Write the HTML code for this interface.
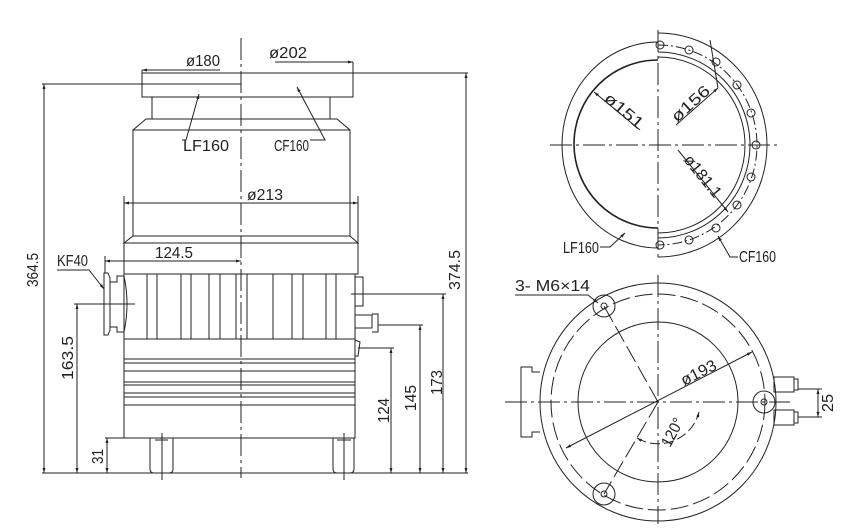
<!DOCTYPE html>
<html><head><meta charset="utf-8"><style>
html,body{margin:0;padding:0;background:#fff;}
svg{display:block}
text{font-family:"Liberation Sans",sans-serif;font-size:16px;fill:#222}
</style></head><body>
<svg width="857" height="528" viewBox="0 0 857 528" xmlns="http://www.w3.org/2000/svg">
<defs>
<marker id="a" viewBox="0 0 10 10" refX="10" refY="5" markerWidth="7" markerHeight="5" orient="auto-start-reverse"><path d="M0,2 L10,5 L0,8z" fill="#222"/></marker>
</defs>
<g stroke="#222" stroke-width="1" fill="none">
<line x1="241" y1="38" x2="241" y2="478" stroke-dasharray="22,4,3,4"/>
<rect x="142" y="73" width="211" height="24"/>
<rect x="152" y="97" width="178" height="22"/>
<path d="M146,119 L133,130 V236 L124,243 H358 L350,236 V130 L337,119 Z"/>
<line x1="133" y1="130" x2="350" y2="130"/>
<line x1="133" y1="236" x2="350" y2="236"/>
<rect x="124" y="243" width="234" height="31"/>
<rect x="124" y="274" width="231" height="65"/>
<g>
<line x1="147" y1="274" x2="147" y2="339"/><line x1="157" y1="274" x2="157" y2="339"/>
<line x1="181" y1="274" x2="181" y2="339"/><line x1="191" y1="274" x2="191" y2="339"/>
<line x1="209" y1="274" x2="209" y2="339"/><line x1="220" y1="274" x2="220" y2="339"/>
<line x1="236" y1="274" x2="236" y2="339"/><line x1="247" y1="274" x2="247" y2="339"/>
<line x1="273" y1="274" x2="273" y2="339"/><line x1="292" y1="274" x2="292" y2="339"/>
<line x1="303" y1="274" x2="303" y2="339"/><line x1="326" y1="274" x2="326" y2="339"/>
<line x1="336" y1="274" x2="336" y2="339"/>
</g>
<rect x="124" y="339" width="231" height="99"/>
<line x1="124" y1="359" x2="355" y2="359"/><line x1="124" y1="363" x2="355" y2="363"/>
<line x1="124" y1="371" x2="355" y2="371"/><line x1="124" y1="382" x2="355" y2="382"/>
<line x1="124" y1="385" x2="355" y2="385"/><line x1="124" y1="393" x2="355" y2="393"/>
<line x1="124" y1="397" x2="355" y2="397"/><line x1="124" y1="405" x2="355" y2="405"/>
<path d="M150,438 V469 Q150,473 154,473 H169 Q173,473 173,469 V438"/>
<line x1="162" y1="433" x2="162" y2="480"/><line x1="155" y1="440" x2="168" y2="440"/>
<path d="M333,438 V469 Q333,473 337,473 H350 Q354,473 354,469 V438"/>
<line x1="344" y1="433" x2="344" y2="480"/><line x1="337" y1="440" x2="351" y2="440"/>
<path d="M104,273 H108 L110,278 V330 L108,335 H104 Z"/>
<path d="M110,282 H117 V276 H124 Q130,304 124,332 H117 V327 H110"/>
<line x1="88" y1="304" x2="135" y2="304"/>
<rect x="355" y="277" width="8" height="29"/>
<path d="M355,315 H372 V328 H355"/><path d="M372,314 H378 V332 H372"/>
<path d="M355,340 L360,342 L358,356 L355,356"/>
<line x1="42" y1="473" x2="468" y2="473"/>
<line x1="42" y1="84" x2="241" y2="84"/>
<line x1="241" y1="73" x2="468" y2="73"/>
<line x1="44" y1="84" x2="44" y2="473" marker-start="url(#a)" marker-end="url(#a)"/>
<line x1="466" y1="73" x2="466" y2="473" marker-start="url(#a)" marker-end="url(#a)"/>
<line x1="74" y1="304" x2="104" y2="304"/>
<line x1="77" y1="304" x2="77" y2="473" marker-start="url(#a)" marker-end="url(#a)"/>
<line x1="105" y1="438" x2="124" y2="438"/>
<line x1="107" y1="438" x2="107" y2="473" marker-start="url(#a)" marker-end="url(#a)"/>
<line x1="351" y1="294" x2="446" y2="294"/>
<line x1="443" y1="294" x2="443" y2="473" marker-start="url(#a)" marker-end="url(#a)"/>
<line x1="378" y1="325" x2="423" y2="325"/>
<line x1="420" y1="325" x2="420" y2="473" marker-start="url(#a)" marker-end="url(#a)"/>
<line x1="358" y1="348" x2="394" y2="348"/>
<line x1="391" y1="348" x2="391" y2="473" marker-start="url(#a)" marker-end="url(#a)"/>
<line x1="124" y1="203" x2="358" y2="203" marker-start="url(#a)" marker-end="url(#a)"/>
<line x1="124" y1="196" x2="124" y2="243"/><line x1="358" y1="196" x2="358" y2="243"/>
<line x1="105" y1="261" x2="241" y2="261" marker-start="url(#a)" marker-end="url(#a)"/>
<line x1="105" y1="256" x2="105" y2="273"/>
<line x1="220" y1="70" x2="142" y2="70" marker-end="url(#a)"/>
<line x1="142" y1="70" x2="142" y2="73"/>
<line x1="275" y1="62" x2="353" y2="62" marker-end="url(#a)"/>
<line x1="353" y1="62" x2="353" y2="73"/>
<path d="M199,94 L186,140 H182" marker-start="url(#a)"/>
<path d="M297,87 L325,140 H310" marker-start="url(#a)"/>
<path d="M57,270 H89 L104,289" marker-end="url(#a)"/>

<line x1="658" y1="30" x2="658" y2="258" stroke-dasharray="22,4,3,4"/>
<line x1="550" y1="145" x2="778" y2="145" stroke-dasharray="22,4,3,4"/>
<path d="M658,42 A96,103 0 0 0 658,248"/>
<path d="M658,60 A84,84 0 0 0 658,228" stroke-width="1.6"/>
<path d="M658,33 A109,112 0 0 1 658,257"/>
<path d="M658,57 A87,88 0 0 1 658,233"/>
<path d="M658,52 A92,93 0 0 1 658,238"/>
<path d="M658,45 A99,100 0 0 1 658,245" stroke-dasharray="10,3,2,3"/>
<g>
<circle cx="689" cy="50" r="4"/><circle cx="716" cy="62" r="4"/><circle cx="737" cy="85" r="4"/>
<circle cx="751" cy="113" r="4"/><circle cx="756" cy="145" r="4"/><circle cx="751" cy="177" r="4"/>
<circle cx="737" cy="205" r="4"/><circle cx="716" cy="228" r="4"/><circle cx="689" cy="240" r="4"/>
<circle cx="660" cy="45" r="4"/><circle cx="660" cy="245" r="4"/>
</g>
<line x1="594" y1="92" x2="640" y2="130" marker-start="url(#a)"/>
<line x1="676" y1="125" x2="718" y2="88" marker-end="url(#a)"/>
<line x1="718" y1="88" x2="710" y2="40"/>
<line x1="678" y1="150" x2="728" y2="212" marker-end="url(#a)"/>
<path d="M600,247 H610 L625,233" marker-end="url(#a)"/>
<path d="M738,257 H730 L718,236" marker-end="url(#a)"/>

<line x1="658" y1="275" x2="658" y2="524" stroke-dasharray="22,4,3,4"/>
<line x1="505" y1="402" x2="790" y2="402" stroke-dasharray="22,4,3,4"/>
<ellipse cx="658" cy="402" rx="118" ry="119"/>
<ellipse cx="658" cy="402" rx="107" ry="108" stroke-dasharray="18,5"/>
<ellipse cx="658" cy="402" rx="80" ry="80"/>
<circle cx="604" cy="306" r="11"/><circle cx="604" cy="306" r="3"/>
<circle cx="604" cy="494" r="11"/><circle cx="604" cy="494" r="3"/>
<circle cx="764" cy="402" r="11"/><circle cx="764" cy="402" r="3"/>
<line x1="658" y1="402" x2="604" y2="306" stroke-dasharray="18,5"/>
<line x1="658" y1="402" x2="604" y2="494" stroke-dasharray="18,5"/>
<line x1="566" y1="448" x2="752" y2="352" marker-start="url(#a)" marker-end="url(#a)"/>
<path d="M637,438 A42,42 0 0 0 699,412" stroke-dasharray="10,4" marker-start="url(#a)" marker-end="url(#a)"/>
<path d="M540,372 H532 V367 H521 V437 H532 V432 H540"/>
<rect x="774" y="377" width="20" height="15"/><rect x="794" y="379" width="4" height="11"/>
<rect x="774" y="410" width="20" height="15"/><rect x="794" y="412" width="4" height="11"/>
<line x1="798" y1="389" x2="822" y2="389"/><line x1="798" y1="417" x2="822" y2="417"/>
<line x1="818" y1="389" x2="818" y2="417" marker-start="url(#a)" marker-end="url(#a)"/>
<path d="M515,295 H588 L598,303" marker-end="url(#a)"/>
</g>

<g>
<text x="186" y="66" textLength="34" lengthAdjust="spacingAndGlyphs">ø180</text>
<text x="269" y="58" textLength="38" lengthAdjust="spacingAndGlyphs">ø202</text>
<text x="183" y="151" textLength="46" lengthAdjust="spacingAndGlyphs">LF160</text>
<text x="274" y="151" textLength="35" lengthAdjust="spacingAndGlyphs">CF160</text>
<text x="247" y="200" textLength="36" lengthAdjust="spacingAndGlyphs">ø213</text>
<text x="155" y="258" textLength="38" lengthAdjust="spacingAndGlyphs">124.5</text>
<text x="57" y="266" textLength="31" lengthAdjust="spacingAndGlyphs" font-size="14">KF40</text>
<text transform="translate(38,287) rotate(-90)" textLength="34" lengthAdjust="spacingAndGlyphs">364.5</text>
<text transform="translate(460,290) rotate(-90)" textLength="40" lengthAdjust="spacingAndGlyphs">374.5</text>
<text transform="translate(73,380) rotate(-90)" textLength="44" lengthAdjust="spacingAndGlyphs">163.5</text>
<text transform="translate(103,464) rotate(-90)" textLength="15" lengthAdjust="spacingAndGlyphs">31</text>
<text transform="translate(389,423) rotate(-90)" textLength="25" lengthAdjust="spacingAndGlyphs">124</text>
<text transform="translate(416,411) rotate(-90)" textLength="26" lengthAdjust="spacingAndGlyphs">145</text>
<text transform="translate(442,395) rotate(-90)" textLength="25" lengthAdjust="spacingAndGlyphs">173</text>
<text transform="translate(603,100) rotate(40)" textLength="46" lengthAdjust="spacingAndGlyphs">ø151</text>
<text transform="translate(677,123) rotate(-42)" textLength="46" lengthAdjust="spacingAndGlyphs">ø156</text>
<text transform="translate(683,160) rotate(51)" textLength="50" lengthAdjust="spacingAndGlyphs">ø181.1</text>
<text x="563" y="253" textLength="36" lengthAdjust="spacingAndGlyphs">LF160</text>
<text x="739" y="262" textLength="37" lengthAdjust="spacingAndGlyphs">CF160</text>
<text x="515" y="291" textLength="75" lengthAdjust="spacingAndGlyphs">3-  M6×14</text>
<text transform="translate(684,386) rotate(-27)" textLength="38" lengthAdjust="spacingAndGlyphs">ø193</text>
<text transform="translate(670,448) rotate(-62)" textLength="30" lengthAdjust="spacingAndGlyphs">120°</text>
<text transform="translate(833,412) rotate(-90)" textLength="18" lengthAdjust="spacingAndGlyphs">25</text>
</g>
</svg>
</body></html>
